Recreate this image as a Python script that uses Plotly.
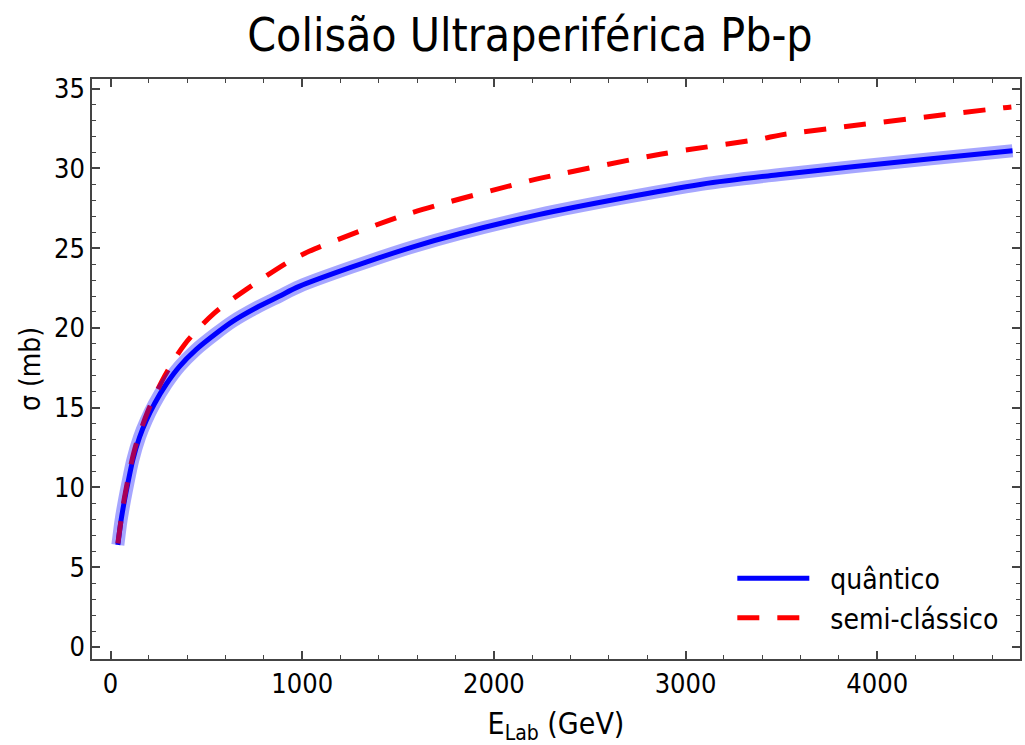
import plotly.graph_objects as go

# Data
e_quant = [38, 55, 73, 90, 116, 151, 186, 229, 290, 359, 446, 550, 637, 758, 880, 984,
           1583, 2233, 3083, 3483, 4281, 4706]
sigma_quant = [6.4, 7.97, 9.22, 10.27, 11.73, 13.15, 14.2, 15.25, 16.47, 17.58, 18.64, 19.65,
               20.41, 21.25, 21.98, 22.6, 25.1, 27.1, 29.0, 29.6, 30.6, 31.1]

e_semi = [38, 73, 125, 194, 281, 385, 541, 758, 932, 1036, 1539, 2146, 2250, 2875, 3396, 3500, 4662, 4700]
sigma_semi = [6.5, 9.4, 12.36, 14.76, 16.96, 18.95, 20.93, 22.82, 24.17, 24.8, 27.1, 29.1, 29.4,
              30.9, 31.85, 32.1, 33.8, 33.85]

x_ticks = [0, 1000, 2000, 3000, 4000]
y_ticks = [0, 5, 10, 15, 20, 25, 30, 35]

FONT = "DejaVu Sans Condensed, DejaVu Sans, sans-serif"

fig = go.Figure()
fig.add_trace(go.Scatter(x=e_quant, y=sigma_quant, mode="lines", name="  quântico",
                         line=dict(color="#0000ff", width=5, shape="spline", smoothing=0.8)))
fig.add_trace(go.Scatter(x=e_semi, y=sigma_semi, mode="lines", name="  semi-clássico",
                         line=dict(color="#ff0000", width=5, dash="22px,18px", shape="spline", smoothing=0.8)))
fig.add_trace(go.Scatter(x=e_quant, y=sigma_quant, mode="lines", showlegend=False, hoverinfo="skip",
                         line=dict(color="rgba(0,0,255,0.35)", width=13, shape="spline", smoothing=0.8)))

axis_common = dict(
    showgrid=False, zeroline=False, showline=True, linecolor="#444", linewidth=1.5,
    mirror="allticks", ticks="inside", ticklen=8, tickwidth=1.5, tickcolor="#444",
    tickfont=dict(family=FONT, size=27, color="black"),
)

fig.update_xaxes(
    range=[-97, 4745], tickvals=x_ticks, ticktext=[str(v) for v in x_ticks],
    minor=dict(dtick=200, tick0=0, ticks="inside", ticklen=4, tickwidth=1.2, tickcolor="#444"),
    title=dict(text="E<sub>Lab</sub> (GeV)", font=dict(family=FONT, size=30, color="black"), standoff=18),
    **axis_common,
)
fig.update_yaxes(
    range=[-0.75, 35.6], tickvals=y_ticks, ticktext=[str(v) for v in y_ticks],
    minor=dict(dtick=1, tick0=0, ticks="inside", ticklen=4, tickwidth=1.2, tickcolor="#444"),
    title=dict(text="σ (mb)", font=dict(family=FONT, size=28, color="black"), standoff=5),
    **axis_common,
)

fig.update_layout(
    width=1025, height=745,
    margin=dict(l=92, r=3, t=79, b=86),
    paper_bgcolor="white", plot_bgcolor="white",
    title=dict(text="Colisão Ultraperiférica Pb-p", x=0.517, xanchor="center", y=0.953, yanchor="middle",
               font=dict(family=FONT, size=46, color="black")),
    legend=dict(x=0.69, y=0.105, xanchor="left", yanchor="middle", bgcolor="rgba(0,0,0,0)",
                font=dict(family=FONT, size=28, color="black"), itemwidth=72, tracegroupgap=6),
    showlegend=True,
)

fig.write_html("out.html")
